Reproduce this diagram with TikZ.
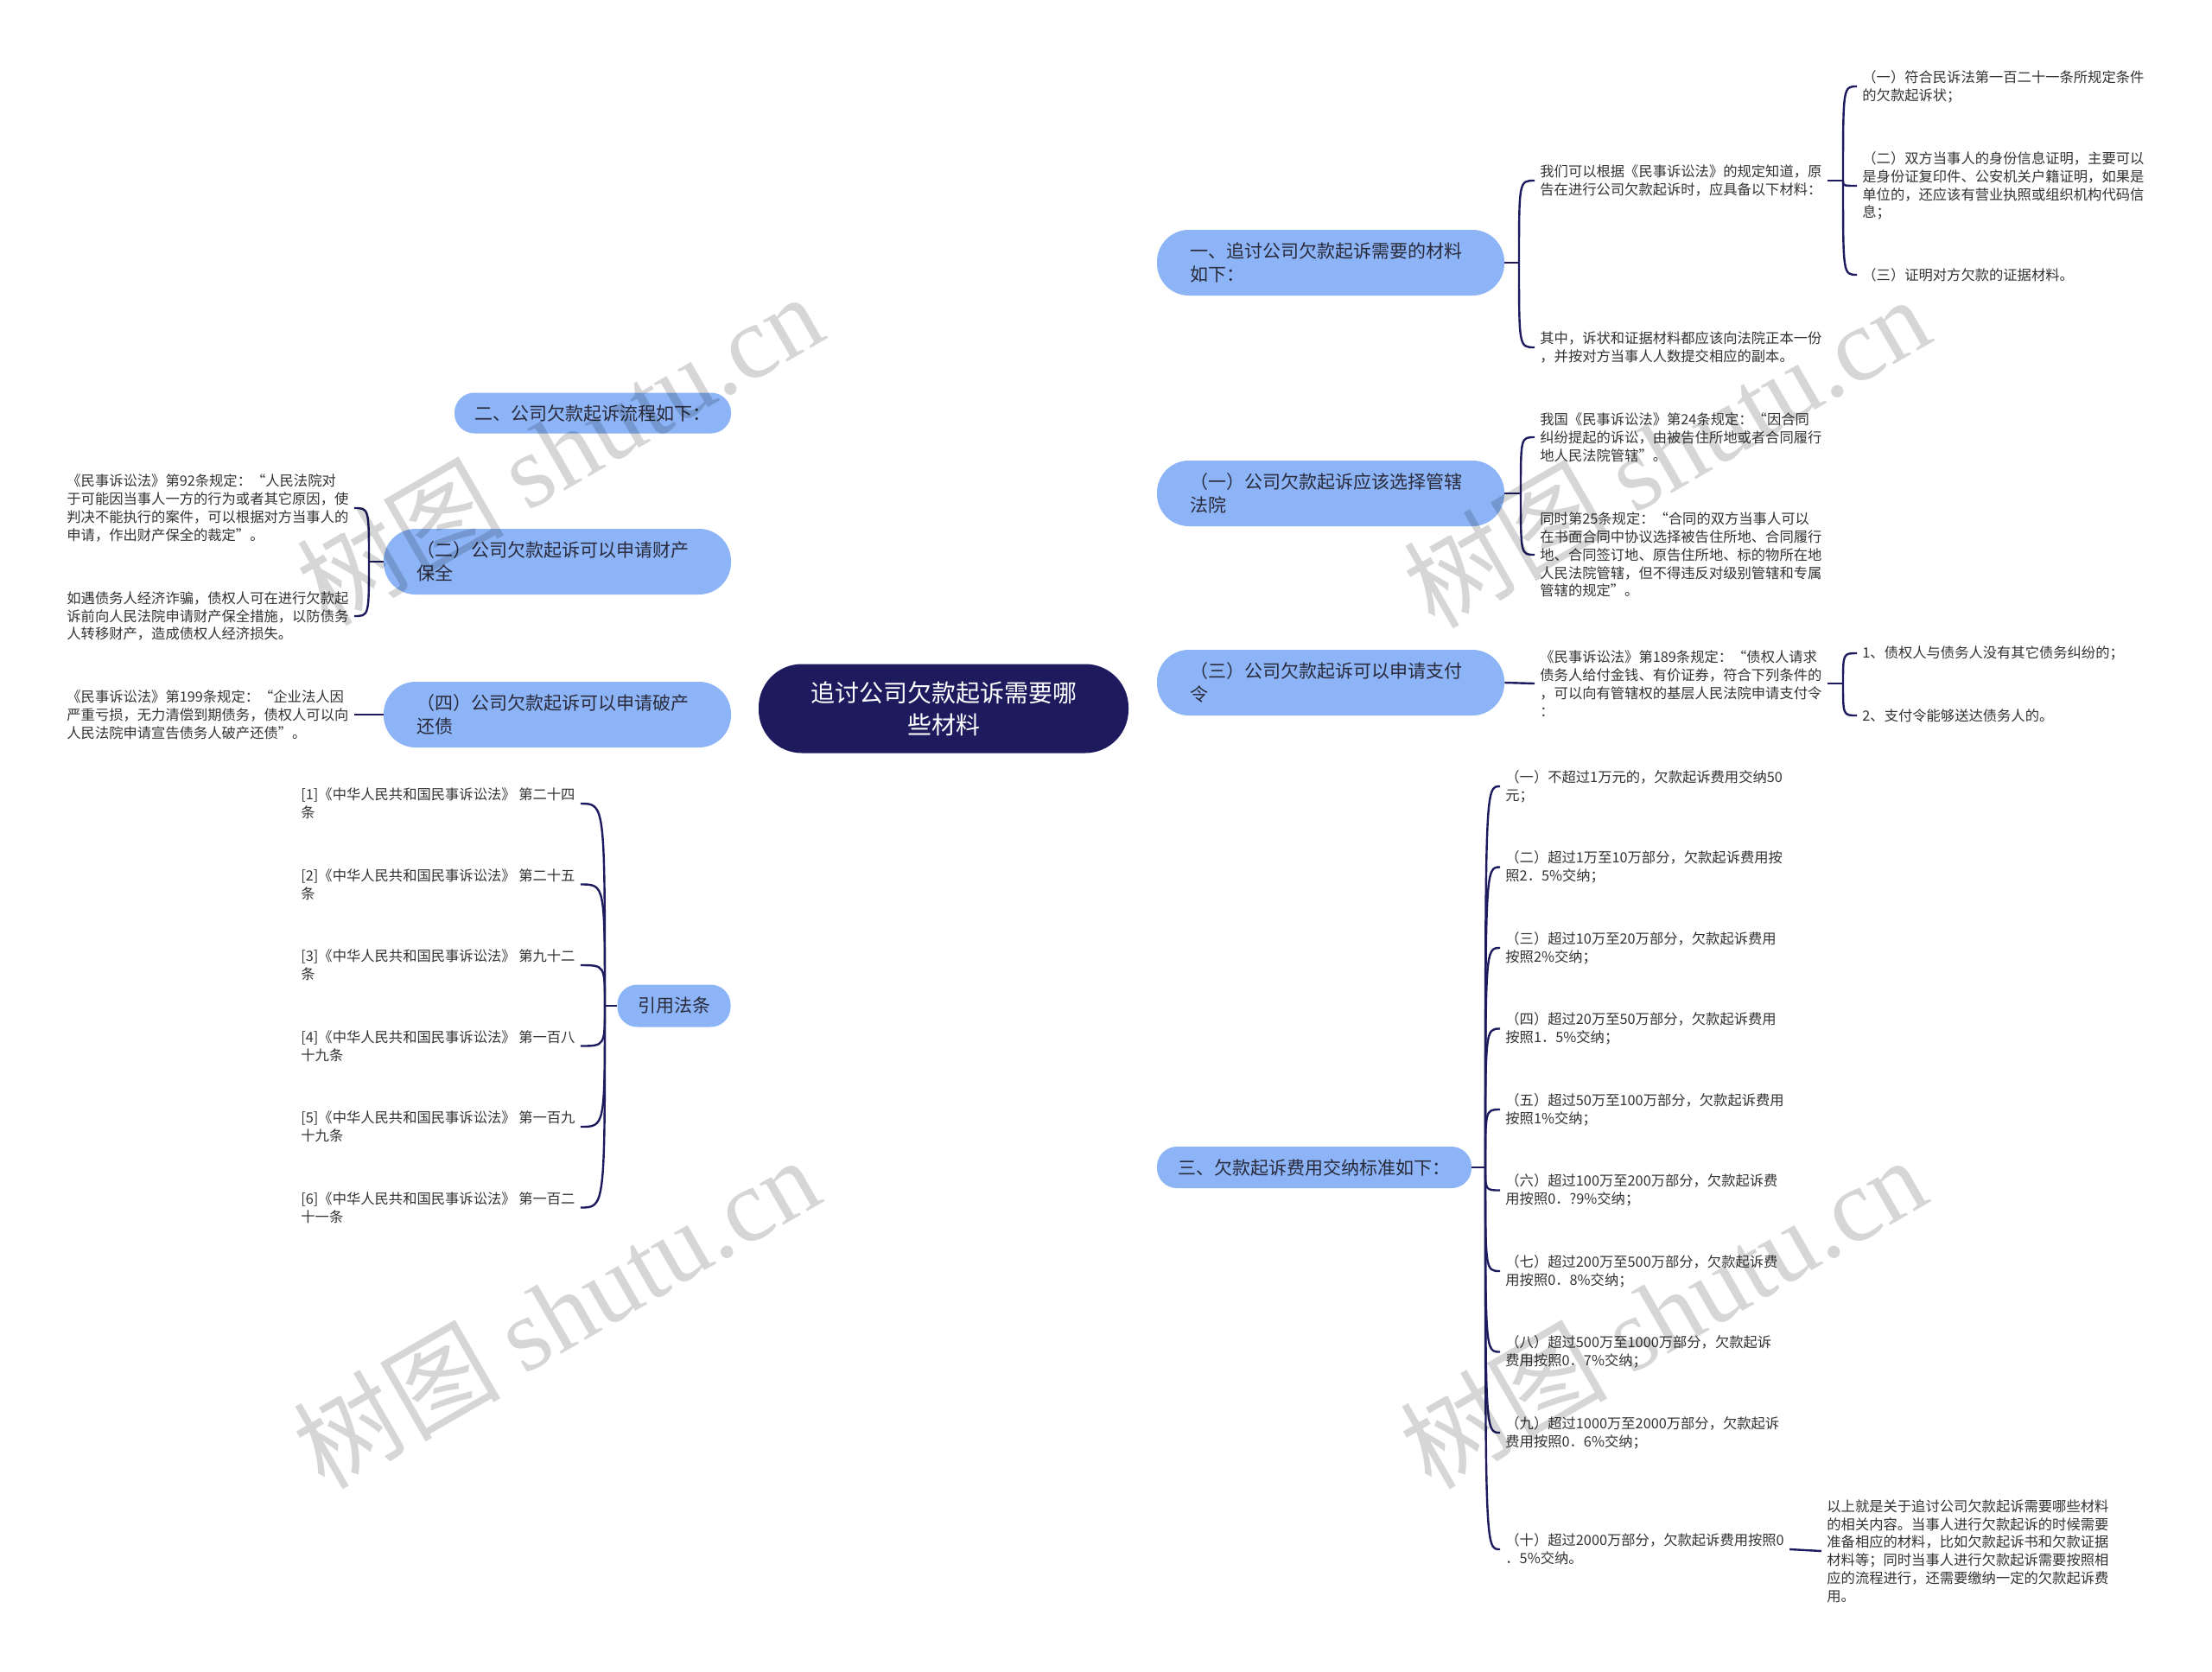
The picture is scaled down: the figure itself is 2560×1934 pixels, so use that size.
\documentclass[tikz,border=0pt]{standalone}
\usepackage{fontspec}
\setmainfont{Noto Sans CJK SC}
\newfontfamily\wmserif{Liberation Serif}
\usetikzlibrary{calc}
\definecolor{navy}{HTML}{1D1B5E}
\definecolor{nodeblue}{HTML}{8CB4F7}
\definecolor{leaftext}{HTML}{333333}
\definecolor{nodetext}{HTML}{2A2A3A}
\pgfdeclarelayer{bg}
\pgfsetlayers{bg,main}
\newcommand\rootlink[1]{%
  \coordinate (tmpq) at (root.center |- #1);
  \draw[link] (root.center) .. controls ($(root.center)!0.667!(tmpq)$) and ($(#1)!0.667!(tmpq)$) .. (#1);}
\newcommand\brlink[2]{%
  \draw[link] (#1) .. controls (#1 |- #2) .. (#2);}
\begin{document}
\begin{tikzpicture}[x=0.5pt,y=-0.5pt,
  link/.style={draw=navy,line width=1.2pt},
  rootnode/.style={fill=navy,text=white,rounded corners=25pt,minimum width=214pt,minimum height=51.5pt,align=center,font=\fontsize{14}{18.3}\selectfont,inner sep=0pt},
  topic/.style={fill=nodeblue,text=nodetext,font=\fontsize{10.5}{13.3}\selectfont,inner ysep=0pt},
  topicm/.style={topic,align=left,text width=163pt,inner xsep=19pt,minimum height=38pt,rounded corners=18.5pt},
  topics/.style={topic,align=center,inner xsep=0pt,rounded corners=11.5pt},
  leaf/.style={anchor=west,align=left,text=leaftext,font=\fontsize{8.15}{10.4}\selectfont,inner xsep=3pt,inner ysep=1pt},
  wm/.style={rotate=30,text=black,text opacity=0.16,inner sep=0pt}
]
\fill[white] (0,0) rectangle (2560,1934);
\useasboundingbox (0,0) rectangle (2560,1934);

% main nodes
\node[rootnode] (root) at (1092,820) {追讨公司欠款起诉需要哪\\些材料};
\node[topicm] (n1) at (1540,304) {一、追讨公司欠款起诉需要的材料\\如下：};
\node[topicm] (n2) at (1540,571) {（一）公司欠款起诉应该选择管辖\\法院};
\node[topicm] (n3) at (1540,790) {（三）公司欠款起诉可以申请支付\\令};
\node[topics,minimum width=182pt,minimum height=24pt] (n4) at (1521,1351) {三、欠款起诉费用交纳标准如下：};
\node[topics,minimum width=160pt,minimum height=23.5pt] (m1) at (686,478) {二、公司欠款起诉流程如下：};
\node[topicm] (m2) at (645,650) {（二）公司欠款起诉可以申请财产\\保全};
\node[topicm] (m3) at (645,827) {（四）公司欠款起诉可以申请破产\\还债};
\node[topics,minimum width=65.5pt,minimum height=24.5pt] (m4) at (780,1164) {引用法条};

% right leaves
\node[leaf] (c1a) at (1776,209) {我们可以根据《民事诉讼法》的规定知道，原\\告在进行公司欠款起诉时，应具备以下材料：};
\node[leaf] (c1b) at (1776,402) {其中，诉状和证据材料都应该向法院正本一份\\，并按对方当事人人数提交相应的副本。};
\node[leaf] (g1) at (2149,100) {（一）符合民诉法第一百二十一条所规定条件\\的欠款起诉状；};
\node[leaf] (g2) at (2149,215) {（二）双方当事人的身份信息证明，主要可以\\是身份证复印件、公安机关户籍证明，如果是\\单位的，还应该有营业执照或组织机构代码信\\息；};
\node[leaf] (g3) at (2149,318) {（三）证明对方欠款的证据材料。};
\node[leaf] (c2a) at (1776,506) {我国《民事诉讼法》第24条规定：“因合同\\纠纷提起的诉讼，由被告住所地或者合同履行\\地人民法院管辖”。};
\node[leaf] (c2b) at (1776,642) {同时第25条规定：“合同的双方当事人可以\\在书面合同中协议选择被告住所地、合同履行\\地、合同签订地、原告住所地、标的物所在地\\人民法院管辖，但不得违反对级别管辖和专属\\管辖的规定”。};
\node[leaf] (c3) at (1776,791) {《民事诉讼法》第189条规定：“债权人请求\\债务人给付金钱、有价证券，符合下列条件的\\，可以向有管辖权的基层人民法院申请支付令\\：};
\node[leaf] (g3a) at (2149,756) {1、债权人与债务人没有其它债务纠纷的；};
\node[leaf] (g3b) at (2149,828) {2、支付令能够送达债务人的。};

\node[leaf] (f1) at (1736,910) {（一）不超过1万元的，欠款起诉费用交纳50\\元；};
\node[leaf] (f2) at (1736,1003.5) {（二）超过1万至10万部分，欠款起诉费用按\\照2．5\%交纳；};
\node[leaf] (f3) at (1736,1097) {（三）超过10万至20万部分，欠款起诉费用\\按照2\%交纳；};
\node[leaf] (f4) at (1736,1190.5) {（四）超过20万至50万部分，欠款起诉费用\\按照1．5\%交纳；};
\node[leaf] (f5) at (1736,1284) {（五）超过50万至100万部分，欠款起诉费用\\按照1\%交纳；};
\node[leaf] (f6) at (1736,1377.5) {（六）超过100万至200万部分，欠款起诉费\\用按照0．?9\%交纳；};
\node[leaf] (f7) at (1736,1471) {（七）超过200万至500万部分，欠款起诉费\\用按照0．8\%交纳；};
\node[leaf] (f8) at (1736,1564.5) {（八）超过500万至1000万部分，欠款起诉\\费用按照0．7\%交纳；};
\node[leaf] (f9) at (1736,1658) {（九）超过1000万至2000万部分，欠款起诉\\费用按照0．6\%交纳；};
\node[leaf] (f10) at (1736,1793) {（十）超过2000万部分，欠款起诉费用按照0\\．5\%交纳。};
\node[leaf] (fin) at (2108,1795) {以上就是关于追讨公司欠款起诉需要哪些材料\\的相关内容。当事人进行欠款起诉的时候需要\\准备相应的材料，比如欠款起诉书和欠款证据\\材料等；同时当事人进行欠款起诉需要按照相\\应的流程进行，还需要缴纳一定的欠款起诉费\\用。};

% left leaves
\node[leaf] (l2a) at (71,588) {《民事诉讼法》第92条规定：“人民法院对\\于可能因当事人一方的行为或者其它原因，使\\判决不能执行的案件，可以根据对方当事人的\\申请，作出财产保全的裁定”。};
\node[leaf] (l2b) at (71,713) {如遇债务人经济诈骗，债权人可在进行欠款起\\诉前向人民法院申请财产保全措施，以防债务\\人转移财产，造成债权人经济损失。};
\node[leaf] (l3) at (71,827) {《民事诉讼法》第199条规定：“企业法人因\\严重亏损，无力清偿到期债务，债权人可以向\\人民法院申请宣告债务人破产还债”。};
\node[leaf] (r1) at (342,930) {[1]《中华人民共和国民事诉讼法》 第二十四\\条};
\node[leaf] (r2) at (342,1023.5) {[2]《中华人民共和国民事诉讼法》 第二十五\\条};
\node[leaf] (r3) at (342,1117) {[3]《中华人民共和国民事诉讼法》 第九十二\\条};
\node[leaf] (r4) at (342,1210.5) {[4]《中华人民共和国民事诉讼法》 第一百八\\十九条};
\node[leaf] (r5) at (342,1304) {[5]《中华人民共和国民事诉讼法》 第一百九\\十九条};
\node[leaf] (r6) at (342,1397.5) {[6]《中华人民共和国民事诉讼法》 第一百二\\十一条};

% junctions
\coordinate (j1) at (1758,304);
\coordinate (j1a) at (2133,209);
\coordinate (j2) at (1760,571);
\coordinate (j3a) at (2133,791);
\coordinate (j4) at (1719,1351);
\coordinate (jm2) at (427,650);
\coordinate (jm4) at (700,1164);

\begin{pgfonlayer}{bg}
\rootlink{n1.west}
\rootlink{n2.west}
\rootlink{n3.west}
\rootlink{n4.west}
\rootlink{m1.east}
\rootlink{m2.east}
\rootlink{m3.east}
\rootlink{m4.east}
\end{pgfonlayer}

% brackets
\draw[link] (n1.east) -- (j1);
\brlink{j1}{c1a.west}
\brlink{j1}{c1b.west}
\draw[link] (c1a.east) -- (j1a);
\brlink{j1a}{g1.west}
\brlink{j1a}{g2.west}
\brlink{j1a}{g3.west}
\draw[link] (n2.east) -- (j2);
\brlink{j2}{c2a.west}
\brlink{j2}{c2b.west}
\draw[link] (n3.east) -- (c3.west);
\draw[link] (c3.east) -- (j3a);
\brlink{j3a}{g3a.west}
\brlink{j3a}{g3b.west}
\draw[link] (n4.east) -- (j4);
\foreach \f in {f1,f2,f3,f4,f5,f6,f7,f8,f9,f10} {\brlink{j4}{\f.west}}
\draw[link] (f10.east) -- (fin.west);
\draw[link] (m2.west) -- (jm2);
\brlink{jm2}{l2a.east}
\brlink{jm2}{l2b.east}
\draw[link] (m3.west) -- (l3.east);
\draw[link] (m4.west) -- (jm4);
\foreach \r in {r1,r2,r3,r4,r5,r6} {\brlink{jm4}{\r.east}}

% watermarks
\node[wm] (wm1) at (647,519) {\fontsize{60}{60}\selectfont 树图 {\wmserif shutu.cn}};
\node[wm] (wm2) at (1928,522) {\fontsize{60}{60}\selectfont 树图 {\wmserif shutu.cn}};
\node[wm] (wm3) at (643,1518) {\fontsize{60}{60}\selectfont 树图 {\wmserif shutu.cn}};
\node[wm] (wm4) at (1924,1518) {\fontsize{60}{60}\selectfont 树图 {\wmserif shutu.cn}};
\end{tikzpicture}
\end{document}
